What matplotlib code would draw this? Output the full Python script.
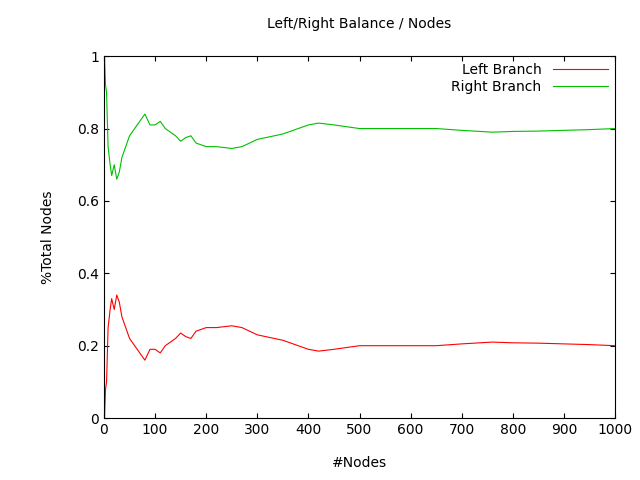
import matplotlib.pyplot as plt

nodes = [1, 3, 5, 8, 12, 15, 20, 25, 30, 35, 40, 50, 60, 70, 80, 90, 100, 110, 120, 130,
         140, 150, 160, 170, 180, 200, 220, 250, 270, 300, 350, 400, 420, 450, 500,
         550, 600, 650, 700, 760, 800, 850, 900, 950, 1000]
left = [0.0, 0.08, 0.1, 0.25, 0.3, 0.33, 0.3, 0.34, 0.32, 0.28, 0.26, 0.22, 0.2, 0.18,
        0.16, 0.19, 0.19, 0.18, 0.2, 0.21, 0.22, 0.235, 0.225, 0.22, 0.24, 0.25, 0.25,
        0.255, 0.25, 0.23, 0.215, 0.19, 0.185, 0.19, 0.2, 0.2, 0.2, 0.2, 0.205, 0.21,
        0.208, 0.207, 0.205, 0.203, 0.2]
right = [1.0, 0.92, 0.9, 0.75, 0.7, 0.67, 0.7, 0.66, 0.68, 0.72, 0.74, 0.78, 0.8, 0.82,
         0.84, 0.81, 0.81, 0.82, 0.8, 0.79, 0.78, 0.765, 0.775, 0.78, 0.76, 0.75, 0.75,
         0.745, 0.75, 0.77, 0.785, 0.81, 0.815, 0.81, 0.8, 0.8, 0.8, 0.8, 0.795, 0.79,
         0.792, 0.793, 0.795, 0.797, 0.8]

fig = plt.figure(figsize=(6.4, 4.8), dpi=100)
ax = fig.add_axes([0.1625, 0.129, 0.7985, 0.754])
ax.plot(nodes, left, color='red', linewidth=0.8, label="Left Branch")
ax.plot(nodes, right, color='#00c000', linewidth=0.8, label="Right Branch")
ax.set_xlim(0, 1000)
ax.set_ylim(0, 1)
ax.set_xticks(range(0, 1001, 100))
ax.set_yticks([0, 0.2, 0.4, 0.6, 0.8, 1])
ax.set_yticklabels(["0", "0.2", "0.4", "0.6", "0.8", "1"])
ax.tick_params(direction='in', top=True, right=True, labelsize=10)
ax.set_xlabel("#Nodes", labelpad=14)
ax.set_ylabel("%Total Nodes", labelpad=16)
ax.set_title("Left/Right Balance / Nodes", fontsize=10, pad=20)
leg = ax.legend(loc='upper right', frameon=False, markerfirst=False, fontsize=10,
                handlelength=4, borderaxespad=0.1, labelspacing=0.2)
for t in leg.get_texts():
    t.set_ha('right')
fig.savefig("out.png")
